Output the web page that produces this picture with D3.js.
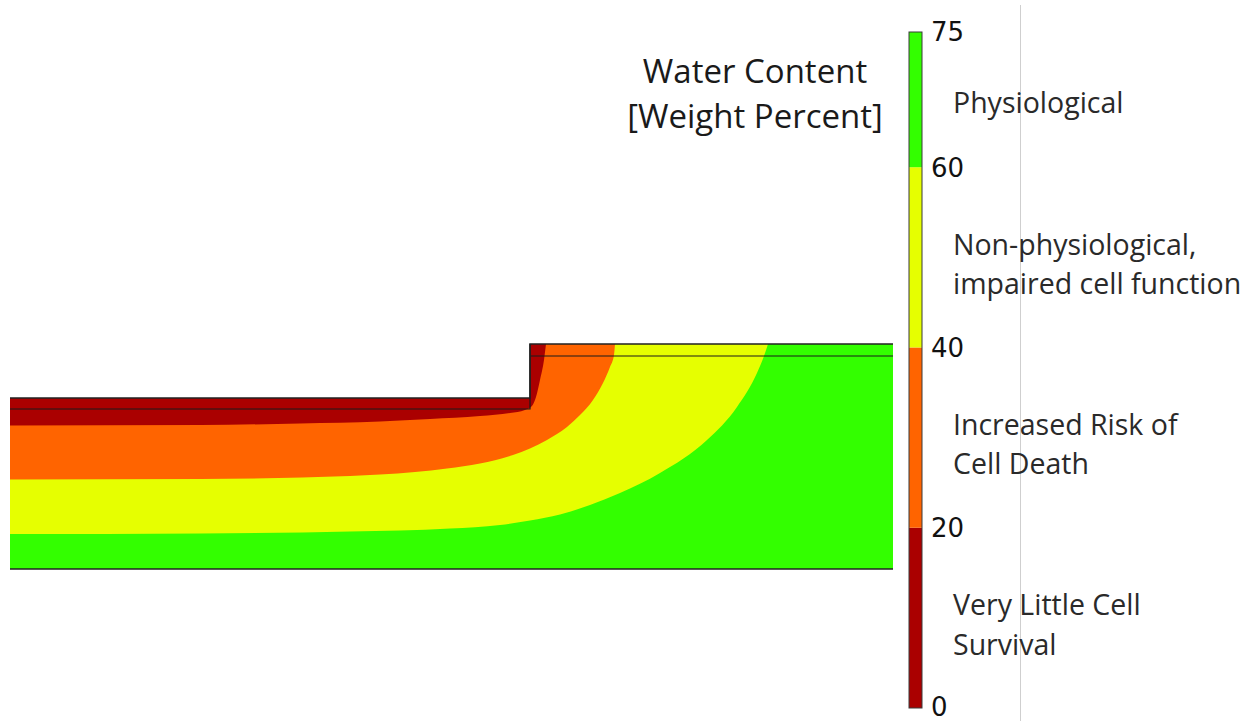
<!DOCTYPE html>
<html>
<head>
<meta charset="utf-8">
<script src="https://cdn.jsdelivr.net/npm/d3@7"></script>
<style>
  html, body { margin: 0; padding: 0; background: #fff; }
  svg { display: block; }
</style>
</head>
<body>
<svg id="chart" width="1244" height="721"></svg>
<script>
// ---------- data (geometry in mm-like units, water content in weight %) ----------
const levels = [0, 20, 40, 60, 75];
const tickLabels = ["0", "20", "40", "60", "75"];
const bandColors = ["#aa0000", "#ff6400", "#e6ff00", "#33ff00"];
const bandLabels = [
  ["Very Little Cell", "Survival"],
  ["Increased Risk of", "Cell Death"],
  ["Non-physiological,", "impaired cell function"],
  ["Physiological"]
];
const titleLines = ["Water Content", "[Weight Percent]"];

// domain outline (x, y) — thin layer on the left, thicker block on the right
const domainOutline = [[0, 0], [88.3, 0], [88.3, 22.5], [52, 22.5], [52, 17.1], [0, 17.1]];
const topEdge = [[0, 17.1], [52, 17.1], [52, 22.5], [88.3, 22.5]];
const bottomEdge = [[0, 0], [88.3, 0]];
const innerLineLeft = [[0, 16.0], [52, 16.0], [52, 22.5]];
const innerLineRight = [[52, 21.3], [88.3, 21.3]];

// iso-lines of water content
const contour20 = [[0, 14.35], [19, 14.4], [29, 14.55], [37, 14.75], [42, 15.0], [47, 15.3],
  [50, 15.6], [51.5, 15.9], [52.2, 16.3], [52.6, 17.2], [53.0, 18.9], [53.4, 20.9], [53.6, 22.5]];
const contour40 = [[0, 8.95], [19, 9.0], [34, 9.3], [37, 9.44], [40.5, 9.7], [43.7, 10.05],
  [47, 10.55], [50.3, 11.4], [53.7, 12.9], [55.7, 14.2], [57, 15.4], [58.3, 16.9],
  [59.3, 18.6], [60, 20.2], [60.4, 21.4], [60.5, 22.5]];
const contour60 = [[0, 3.5], [19, 3.56], [34, 3.74], [44, 4.04], [49, 4.4], [52, 4.85],
  [55, 5.45], [58, 6.4], [61, 7.6], [65, 9.6], [69.7, 12.9], [72.7, 16.2], [74.7, 19.6],
  [75.4, 21.3], [75.8, 22.5]];

// ---------- drawing ----------
const svg = d3.select("#chart");
const x = d3.scaleLinear().domain([0, 88.3]).range([10, 893]);
const y = d3.scaleLinear().domain([0, 22.5]).range([569, 344]);
const cbar = d3.scaleLinear().domain([0, 75]).range([708, 32]);

const poly = d3.line().x(d => x(d[0])).y(d => y(d[1]));
const smooth = d3.line().x(d => x(d[0])).y(d => y(d[1])).curve(d3.curveMonotoneX);

svg.append("defs").append("clipPath").attr("id", "dom")
  .append("path").attr("d", poly(domainOutline) + "Z");

const g = svg.append("g").attr("clip-path", "url(#dom)");
g.append("path").attr("d", poly(domainOutline) + "Z").attr("fill", bandColors[3]);

function regionPath(c) {
  const last = c[c.length - 1];
  return smooth(c) + `L${x(last[0])},${y(30)}L${x(0) - 5},${y(30)}L${x(0) - 5},${y(c[0][1])}Z`;
}
[[contour60, bandColors[2]], [contour40, bandColors[1]], [contour20, bandColors[0]]].forEach(([c, col]) => {
  g.append("path").attr("d", regionPath(c)).attr("fill", col);
});

// geometry lines
svg.append("path").attr("d", poly(innerLineLeft)).attr("fill", "none").attr("stroke", "#1a1a1a").attr("stroke-width", 1.2);
svg.append("path").attr("d", poly(innerLineRight)).attr("fill", "none").attr("stroke", "#1a1a1a").attr("stroke-width", 1.2);
svg.append("path").attr("d", poly(topEdge)).attr("fill", "none").attr("stroke", "#222").attr("stroke-width", 1.6);
svg.append("path").attr("d", poly(bottomEdge)).attr("fill", "none").attr("stroke", "#222").attr("stroke-width", 1.3);

// right-hand separator line
svg.append("line").attr("x1", 1020.5).attr("x2", 1020.5).attr("y1", 5).attr("y2", 721)
  .attr("stroke", "#cfcfcf").attr("stroke-width", 1);

// colour bar
const cbX = 909, cbW = 13;
for (let i = 0; i < bandColors.length; i++) {
  svg.append("rect")
    .attr("x", cbX).attr("width", cbW)
    .attr("y", cbar(levels[i + 1])).attr("height", cbar(levels[i]) - cbar(levels[i + 1]))
    .attr("fill", bandColors[i]);
}
svg.append("rect").attr("x", cbX).attr("width", cbW)
  .attr("y", cbar(75)).attr("height", cbar(0) - cbar(75))
  .attr("fill", "none").attr("stroke", "#3a3a3a").attr("stroke-width", 1);

svg.append("g").selectAll("text").data(levels).join("text")
  .attr("x", 931).attr("y", d => cbar(d))
  .attr("dy", d => d === 0 ? "0.3em" : "0.36em")
  .attr("font-family", "DejaVu Sans")
  .attr("font-size", 26)
  .attr("fill", "#111")
  .text((d, i) => tickLabels[i]);

// band labels
bandLabels.forEach((lines, i) => {
  const mid = cbar((levels[i] + levels[i + 1]) / 2);
  const off = lines.length > 1 ? 17 : 13;
  lines.forEach((t, j) => {
    svg.append("text")
      .attr("x", 953)
      .attr("y", mid + off + (j - (lines.length - 1) / 2) * 39.5)
      .attr("font-family", "Open Sans")
      .attr("font-size", 28.5)
      .attr("fill", "#2a2a2a")
      .text(t);
  });
});

// title
titleLines.forEach((t, j) => {
  svg.append("text")
    .attr("x", 755).attr("y", 83 + j * 45)
    .attr("text-anchor", "middle")
    .attr("font-family", "Open Sans")
    .attr("font-size", 33)
    .attr("fill", "#1a1a1a")
    .text(t);
});
</script>
</body>
</html>
